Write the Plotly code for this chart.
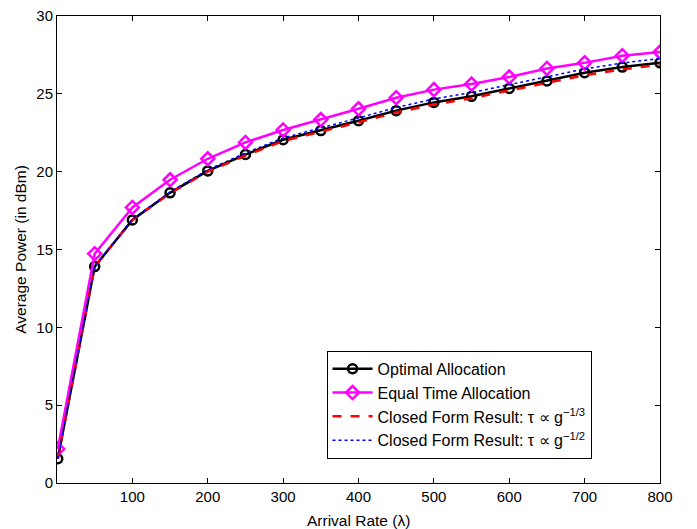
import plotly.graph_objects as go

arrival_rate = [1, 50, 100, 150, 200, 250, 300, 350, 400, 450, 500, 550, 600, 650, 700, 750, 800]
optimal = [1.56, 13.9, 16.9, 18.64, 20.05, 21.1, 22.05, 22.64, 23.27, 23.92, 24.45, 24.84, 25.35, 25.83, 26.36, 26.72, 26.99]
equal_time = [2.19, 14.73, 17.7, 19.48, 20.83, 21.88, 22.68, 23.35, 24.04, 24.75, 25.27, 25.63, 26.08, 26.63, 26.99, 27.45, 27.68]
closed_third = [1.56, 13.9, 16.9, 18.62, 20.0, 21.03, 21.97, 22.55, 23.17, 23.8, 24.32, 24.72, 25.2, 25.68, 26.2, 26.57, 26.88]
closed_half = [1.56, 13.92, 16.95, 18.7, 20.12, 21.2, 22.17, 22.8, 23.45, 24.12, 24.67, 25.08, 25.58, 26.08, 26.6, 26.98, 27.27]

fnt = "Liberation Sans, Arial, Helvetica, sans-serif"

fig = go.Figure()
fig.add_trace(go.Scatter(
    x=arrival_rate, y=optimal, mode="lines+markers", name="Optimal Allocation",
    line=dict(color="black", width=2.5),
    marker=dict(symbol="circle-open", size=9, color="black", line=dict(width=2.5)),
))
fig.add_trace(go.Scatter(
    x=arrival_rate, y=equal_time, mode="lines+markers", name="Equal Time Allocation",
    line=dict(color="#ff00ff", width=2.5),
    marker=dict(symbol="diamond-open", size=10, color="#ff00ff", line=dict(width=2.5)),
))
fig.add_trace(go.Scatter(
    x=arrival_rate, y=closed_third, mode="lines",
    name="Closed Form Result: τ ∝ g<sup>−1/3</sup>",
    line=dict(color="#ff0000", width=2.5, dash="dash"),
))
fig.add_trace(go.Scatter(
    x=arrival_rate, y=closed_half, mode="lines",
    name="Closed Form Result: τ ∝ g<sup>−1/2</sup>",
    line=dict(color="#0000ff", width=1.5, dash="dot"),
))

axis_common = dict(
    showline=True, linecolor="black", linewidth=1, mirror="ticks",
    ticks="inside", ticklen=5, tickcolor="black", showgrid=False, zeroline=False,
    tickfont=dict(family=fnt, size=15, color="black"),
    ticklabeloverflow="allow", automargin=False,
)
fig.update_xaxes(range=[0, 800], tickvals=[100, 200, 300, 400, 500, 600, 700, 800], **axis_common)
fig.update_yaxes(range=[0, 30], tickvals=[0, 5, 10, 15, 20, 25, 30], **axis_common)

fig.add_annotation(text="Arrival Rate (λ)", xref="paper", yref="paper", x=0.5, y=-0.081,
                   xanchor="center", yanchor="middle", showarrow=False,
                   font=dict(family=fnt, size=15.5, color="black"))
fig.add_annotation(text="Average Power (in dBm)", xref="paper", yref="paper", x=-0.061, y=0.5,
                   xanchor="center", yanchor="middle", textangle=-90, showarrow=False,
                   font=dict(family=fnt, size=15.5, color="black"))

fig.update_layout(
    width=697, height=529,
    margin=dict(l=49, r=45, t=8, b=54),
    plot_bgcolor="white", paper_bgcolor="white",
    font=dict(family=fnt, size=15, color="black"),
    legend=dict(x=0.447, y=0.283, xanchor="left", yanchor="top",
                bordercolor="black", borderwidth=1, bgcolor="white",
                font=dict(family=fnt, size=16, color="black"),
                itemwidth=40, tracegroupgap=0),
)

fig.write_html("out.html")
